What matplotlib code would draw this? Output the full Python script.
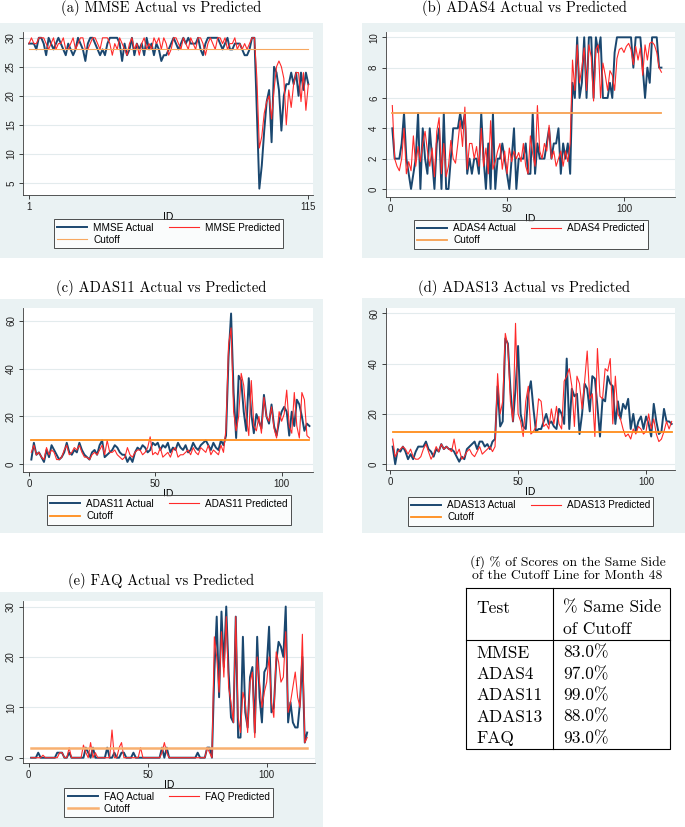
import numpy as np
import matplotlib
matplotlib.use('Agg')
import matplotlib.pyplot as plt
from matplotlib.patches import Rectangle

# ---------------- data ----------------
mmse_actual = [29, 29, 29, 28, 30, 30, 29, 27, 30, 29,
               28, 29, 30, 29, 28, 27, 29, 28, 27, 28,
               30, 29, 28, 26, 29, 30, 30, 29, 28, 27,
               28, 27, 29, 30, 30, 30, 30, 29, 26, 29,
               27, 28, 30, 27, 29, 28, 29, 27, 30, 28,
               29, 27, 29, 28, 26, 27, 27, 28, 29, 30,
               29, 28, 29, 30, 29, 30, 29, 29, 29, 30,
               28, 27, 29, 30, 30, 30, 30, 30, 29, 28,
               29, 30, 28, 28, 29, 29, 29, 28, 27, 27,
               28, 30, 30, 17, 4, 8, 14, 19, 21, 12,
               25, 24, 21, 14, 20, 22, 22, 24, 22, 24,
               20, 24, 21, 24, 22]
mmse_pred = [29, 30, 29, 29, 30, 30, 30, 29, 28, 29,
             30, 28, 29, 29, 30, 28, 28, 29, 30, 28,
             29, 30, 30, 28, 28, 29, 30, 30, 29, 28,
             30, 30, 30, 29, 27, 29, 28, 30, 29, 28,
             27, 29, 30, 28, 29, 27, 29, 30, 28, 29,
             28, 30, 29, 30, 28, 30, 29, 27, 28, 30,
             30, 29, 28, 30, 29, 28, 30, 29, 28, 30,
             30, 29, 27, 29, 30, 29, 28, 30, 30, 29,
             30, 28, 29, 29, 30, 28, 29, 28, 29, 28,
             29, 30, 30, 23, 11, 13, 17, 19, 20, 16,
             21, 25, 26, 25, 23, 15, 21, 18, 22, 24,
             24, 19, 24, 17.5, 22]

adas4_actual = [4, 2, 2, 2, 3, 5, 2, 1, 0, 1,
                2, 5, 0, 4, 2, 1, 4, 2, 0, 3,
                4, 0, 5, 0, 0, 2, 4, 4, 4, 5,
                4, 5, 1, 2, 1, 2, 2, 1, 5, 2,
                0, 3, 0, 5, 0, 2, 2, 3, 2, 1,
                0, 2, 4, 0, 2, 2, 2, 3, 1, 1,
                5, 1, 3, 2, 2, 2, 3, 4, 2, 3,
                3, 4, 1, 3, 2, 3, 1, 7, 6, 10,
                6, 7, 10, 6, 10, 10, 6, 10, 9, 10,
                6, 6, 6, 7, 6, 9, 10, 10, 10, 10,
                10, 10, 10, 8, 10, 10, 10, 8, 6, 8,
                7, 10, 10, 10, 8, 8]
adas4_pred = [5.5, 2, 1.5, 1.2, 2, 4, 1, 1.8, 1.2, 3.5,
              1.5, 2.8, 1.8, 3, 3.8, 2.5, 1.5, 2.7, 0.8, 3.8,
              4.7, 1, 3, 0.8, 1.5, 3.2, 2, 1.7, 3, 4.5,
              2.8, 5.4, 1.3, 3, 3, 2, 2.8, 1.5, 4, 1.5,
              2.7, 1, 4.5, 1.3, 1.8, 2.5, 3, 1.3, 2.5, 1,
              2.7, 1.8, 2.5, 2, 2.4, 1.8, 3, 1.5, 1, 3.5,
              2.3, 1.5, 5.5, 2.5, 2, 3, 2.5, 4.2, 2, 2.5,
              1.5, 2, 2.5, 1.5, 2.5, 1.8, 3, 8.5, 6.5, 9.5,
              7, 8, 9.3, 6.5, 9.5, 8.7, 5.8, 9.2, 9.5, 6.0,
              8.3, 7.5, 6.5, 7.8, 7.5, 6.5, 8.6, 9.2, 9.3, 9.0,
              9.4, 9.6, 9.2, 8.2, 9.4, 8.5, 9.3, 7.5, 9.5, 8.5,
              9.6, 9.7, 9.5, 9.0, 8.0, 7.7]

adas11_actual = [2, 9, 4, 5, 3, 1, 6, 3, 8, 6,
                 4, 2, 3, 5, 9, 5, 4, 6, 5, 9,
                 6, 4, 3, 2, 5, 6, 4, 8, 10, 3,
                 4, 5, 6, 8, 7, 5, 4, 4, 1, 3,
                 1, 5, 7, 6, 8, 7, 5, 6, 9, 8,
                 9, 6, 8, 7, 9, 5, 7, 6, 9, 7,
                 6, 8, 5, 6, 9, 7, 6, 8, 9, 10,
                 8, 6, 9, 7, 6, 10, 8,
                 12, 45, 63, 30, 11, 37, 35, 22, 14, 36,
                 21, 13, 21, 18, 15, 29, 20, 17, 25, 16,
                 12, 18, 22, 24, 22, 12, 22, 16, 27, 25,
                 20, 14, 17, 16]
adas11_pred = [5, 8, 4, 5, 3, 2, 7, 4, 6, 5,
               2, 2, 3, 6, 8, 4, 5, 7, 6, 8,
               5, 3, 3, 2, 4, 5, 4, 6, 8, 4,
               10, 5, 5, 6, 4, 3, 2, 3, 7, 4,
               3, 5, 6, 6, 4, 5, 7, 11.5, 4, 5,
               4, 7, 3, 4, 5, 3, 6, 7, 3, 4,
               4, 5, 6, 4, 7, 5, 4, 7, 6, 5,
               8, 4, 6, 5, 4, 8, 5,
               15, 50, 57, 22, 14, 20, 38, 33, 20, 12,
               35, 16, 14, 20, 13, 28, 20, 18, 24, 15,
               11, 22, 18, 21, 31, 16, 13, 30, 16, 11,
               30, 27, 12, 11]

adas13_actual = [7, 0, 6, 5, 7, 5, 2, 4, 2, 5,
                 7, 7, 7, 9, 6, 5, 3, 6, 5, 8,
                 6, 7, 6, 6, 5, 3, 1, 3, 2, 6,
                 7, 8, 9, 6, 9, 9, 7, 8, 6, 9,
                 10,
                 31, 15, 17, 50, 48, 30, 17, 30, 47, 20,
                 15, 14, 28, 33, 22, 13, 14, 14, 17, 20,
                 16, 17, 15, 14, 22, 20, 16, 42, 14, 30,
                 27, 28, 12, 20, 32, 30, 21, 35, 34, 23,
                 11, 26, 25, 35, 32, 31, 16, 25, 18, 24,
                 22, 26, 14, 20, 13, 17, 19, 14, 19, 16,
                 11, 24, 17, 12, 13, 22, 17, 17, 16]
adas13_pred = [10, 3, 5, 6, 7, 6, 4, 6, 3, 2,
               2, 3, 6, 8, 5, 2, 4, 7, 5, 8,
               6, 7, 6, 5, 10, 4, 6, 2, 3, 5,
               6, 4, 3, 5, 7, 4, 5, 6, 7, 5,
               7,
               36, 20, 25, 52, 47, 25, 17, 56, 20, 17,
               11, 25, 31, 12, 13, 15, 26, 25, 15, 16,
               14, 22, 16, 23, 16, 14, 33, 35, 38, 31,
               15, 35, 32, 22, 33, 45, 26, 28, 11, 46,
               27, 26, 38, 37, 42, 16, 35, 20, 18, 14,
               11, 12, 10, 14, 12, 15, 14, 12, 13, 20,
               14, 18, 12, 9, 10, 13, 17, 14, 17]

faq_actual = [0, 0, 0, 1, 0, 0, 0, 0, 0, 0,
              0, 1, 1, 1, 0, 0, 1, 0, 0, 0,
              0, 0, 0, 2, 1, 0, 2, 0, 0, 0,
              0, 0, 2, 0, 0, 1, 0, 0, 1, 1,
              0, 0, 0, 1, 0, 0, 0, 0, 0, 0,
              0, 0, 0, 0, 0, 2, 0, 2, 0, 0,
              0, 0, 0, 0, 0, 0, 0, 0, 0, 0,
              1, 0, 0, 0, 2, 2, 0,
              17, 28, 12, 29, 18, 30, 17, 8, 7, 28,
              4, 4, 24, 9, 6, 16, 18, 5, 24, 12,
              7, 17, 18, 26, 9, 10, 19, 23, 22, 20,
              30, 7, 11, 7, 6, 6, 11, 20, 3, 5]
faq_pred = [0, 0, 0, 0, 0, 0.5, 0, 0, 0, 0,
            0, 0, 1, 1, 0, 0, 2, 0, 0, 0,
            0, 0, 2.5, 1, 0, 3, 0, 1, 0, 0,
            0, 0, 0, 0, 5.5, 0, 0, 2, 3, 0,
            0, 0, 0, 0, 0, 0, 2, 0, 0, 0,
            0, 0, 0, 0, 0, 1, 3, 1, 0, 0,
            0, 0, 0, 0, 0, 0, 0, 0, 0, 0,
            0, 0, 0, 0, 2, 1, 0,
            24, 20, 13, 25, 16, 28, 14, 11, 7, 28,
            8, 5, 13, 11, 5, 15, 17, 4, 20, 15,
            10, 13, 15, 20, 11, 8, 21, 19, 15, 16,
            25, 9, 11, 14, 17, 12, 10, 24.5, 3, 4]

tests = ['MMSE', 'ADAS4', 'ADAS11', 'ADAS13', 'FAQ']
cutoffs = [28, 5, 10, 13, 2]
same_side = ['83.0%', '97.0%', '99.0%', '88.0%', '93.0%']

# ---------------- figure ----------------
W, H = 685, 827
fig = plt.figure(figsize=(W / 100, H / 100), dpi=100)
plt.rcParams['font.family'] = ['Liberation Sans', 'DejaVu Sans']
SERIF = 'cmr10'

navy = '#1a476f'
red = '#ff2a2a'
bg_col = '#eaf2f3'
grid_col = '#e3ebed'


def fr(x0, y0, x1, y1):
    # pixel box (top-left origin) -> figure rect
    return [x0 / W, 1 - y1 / H, (x1 - x0) / W, (y1 - y0) / H]


def panel(title, name, actual, pred, cut, bg, box, leg, ttl, ylim, xlim,
          yticks, xticks, cut_col, cut_lw):
    fig.patches.append(Rectangle((bg[0] / W, 1 - bg[3] / H),
                                 (bg[2] - bg[0]) / W, (bg[3] - bg[1]) / H,
                                 transform=fig.transFigure, facecolor=bg_col,
                                 edgecolor='none', zorder=-5))
    fig.text(ttl[0] / W, 1 - ttl[1] / H, title, family=SERIF, fontsize=10.5,
             ha='center', va='center')
    ax = fig.add_axes(fr(*box))
    ax.set_facecolor('white')
    x = np.arange(1, len(actual) + 1)
    l1, = ax.plot(x, actual, color=navy, lw=1.4, label=name + ' Actual')
    l2, = ax.plot(np.arange(1, len(pred) + 1), pred, color=red, lw=0.8,
                  label=name + ' Predicted')
    l3, = ax.plot([1, len(actual)], [cut, cut], color=cut_col, lw=cut_lw,
                  label='Cutoff')
    ax.set_ylim(*ylim)
    ax.set_xlim(*xlim)
    ax.set_yticks(yticks)
    ax.set_xticks(xticks)
    ax.yaxis.grid(True, color=grid_col, lw=0.8)
    ax.set_axisbelow(True)
    for s in ['top', 'right']:
        ax.spines[s].set_visible(False)
    for s in ['left', 'bottom']:
        ax.spines[s].set_color('#3a3a3a')
        ax.spines[s].set_linewidth(0.6)
    ax.tick_params(direction='out', length=3, width=0.6, colors='#222',
                   labelsize=7, pad=2)
    ax.tick_params(axis='y', labelrotation=90)
    for t in ax.get_yticklabels():
        t.set_va('center')
    ax.set_xlabel('ID', fontsize=7.5, labelpad=0)
    lg = ax.legend([l1, l3, l2], [l1.get_label(), 'Cutoff', l2.get_label()],
                   ncol=2, loc='center', fontsize=7.2,
                   bbox_to_anchor=((leg[0] + leg[2]) / 2 / W,
                                   1 - (leg[1] + leg[3]) / 2 / H),
                   bbox_transform=fig.transFigure, frameon=True,
                   fancybox=False, edgecolor='#222', handlelength=3.0,
                   columnspacing=1.5, borderpad=0.35, labelspacing=0.2,
                   handletextpad=0.6)
    lg.get_frame().set_linewidth(0.7)
    return ax


panel('(a) MMSE Actual vs Predicted', 'MMSE', mmse_actual, mmse_pred,
      cutoffs[0], (0, 23, 323, 258), (23, 32, 313, 195), (68, 220, 269, 247),
      (161, 8), (2.9, 31.0), (-1.45, 116.9), [5, 10, 15, 20, 25, 30],
      [1, 115], '#f7a860', 0.8)
panel('(b) ADAS4 Actual vs Predicted', 'ADAS4', adas4_actual, adas4_pred,
      cutoffs[1], (362, 23, 685, 258), (386, 32, 675, 197),
      (427, 220, 635, 248), (524, 8), (-0.53, 10.35), (-1.7, 121.8),
      [0, 2, 4, 6, 8, 10], [0, 50, 100], '#f7a050', 1.3)
panel('(c) ADAS11 Actual vs Predicted', 'ADAS11', adas11_actual, adas11_pred,
      cutoffs[2], (0, 299, 323, 533), (23, 308, 313, 472),
      (61, 497, 277, 523), (161, 288), (-3.2, 65.3), (-2.3, 112.4),
      [0, 20, 40, 60], [0, 50, 100], '#ff8c1a', 1.3)
panel('(d) ADAS13 Actual vs Predicted', 'ADAS13', adas13_actual, adas13_pred,
      cutoffs[3], (362, 298, 685, 533), (386, 308, 675, 470),
      (423, 497, 638, 525), (524, 288), (-2.3, 62.1), (-1.6, 111.3),
      [0, 20, 40, 60], [0, 50, 100], '#ff8c1a', 1.3)
panel('(e) FAQ Actual vs Predicted', 'FAQ', faq_actual, faq_pred,
      cutoffs[4], (0, 592, 323, 827), (23, 601, 315, 763),
      (76, 789, 261, 816), (161, 581), (-1.05, 31.1), (-2.4, 120.3),
      [0, 10, 20, 30], [0, 50, 100], '#f8b070', 1.8)

# ---------------- table (f) ----------------
tx = fig.add_axes([0, 0, 1, 1])
tx.patch.set_visible(False)
tx.set_xlim(0, W)
tx.set_ylim(H, 0)
tx.axis('off')
tx.text(568, 562, '(f) % of Scores on the Same Side', family=SERIF,
        fontsize=9.8, ha='center', va='center')
tx.text(567, 576, 'of the Cutoff Line for Month 48', family=SERIF,
        fontsize=9.8, ha='center', va='center')
tx.plot([466, 670, 670, 466, 466], [588, 588, 749, 749, 588], color='black', lw=0.8)
tx.plot([553, 553], [588, 749], color='black', lw=0.8)
tx.plot([466, 670], [640, 640], color='black', lw=0.8)
tx.text(476, 608, 'Test', family=SERIF, fontsize=12.5, va='center')
tx.text(563, 608, '% Same Side', family=SERIF, fontsize=12.5, va='center')
tx.text(563, 629, 'of Cutoff', family=SERIF, fontsize=12.5, va='center')
for i, (t, v) in enumerate(zip(tests, same_side)):
    yy = 653 + i * 21.3
    tx.text(476, yy, t, family=SERIF, fontsize=12.5, va='center')
    tx.text(563, yy, v, family=SERIF, fontsize=12.5, va='center')

fig.savefig('out.png', dpi=100)
